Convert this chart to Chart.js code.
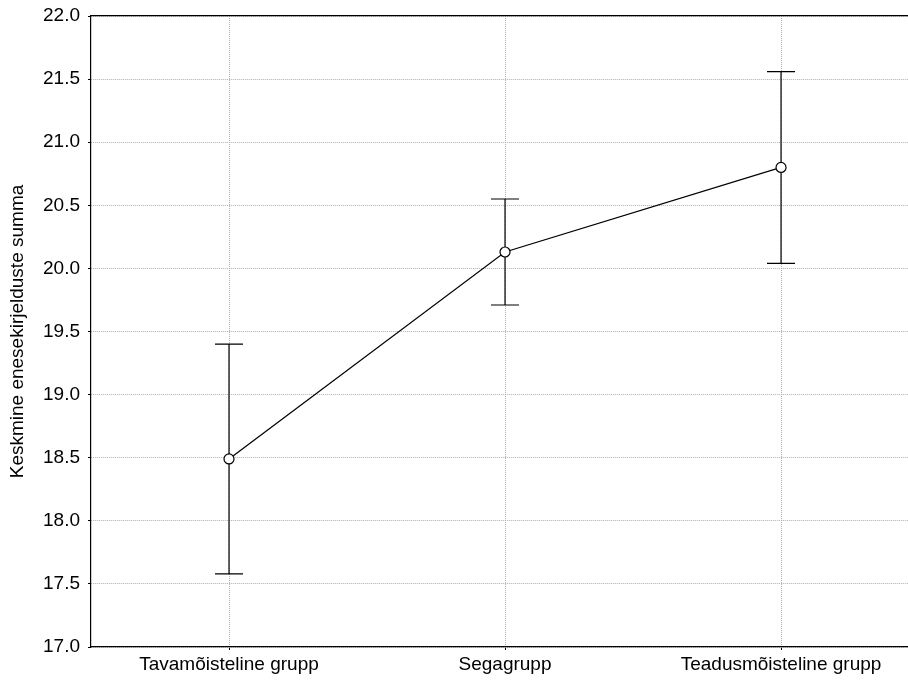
<!DOCTYPE html>
<html>
<head>
<meta charset="utf-8">
<script src="https://cdn.jsdelivr.net/npm/chart.js@4/dist/chart.umd.min.js"></script>
<style>
  html, body { margin: 0; padding: 0; background: #fff; }
  canvas { display: block; }
</style>
</head>
<body>
<canvas id="c" width="908" height="681"></canvas>
<script>
// Group means with 95% confidence limits
const groups = ['Tavamõisteline grupp', 'Segagrupp', 'Teadusmõisteline grupp'];
const means = [18.49, 20.13, 20.80];
const lower = [17.58, 19.71, 20.04];
const upper = [19.40, 20.55, 21.56];
const yTicks = [17.0, 17.5, 18.0, 18.5, 19.0, 19.5, 20.0, 20.5, 21.0, 21.5, 22.0];
const yTitle = 'Keskmine enesekirjelduste summa';

const FONT = { family: '"Liberation Sans", Arial, sans-serif', size: 19 };

// Vertical whiskers with caps, drawn under the line and markers
const errorBars = {
  id: 'errorBars',
  beforeDatasetsDraw(chart) {
    const { ctx, scales: { x, y } } = chart;
    ctx.save();
    ctx.strokeStyle = '#000';
    ctx.lineWidth = 1.2;
    const cap = 14;
    groups.forEach((g, i) => {
      const px = x.getPixelForValue(i + 1);
      const pLo = y.getPixelForValue(lower[i]);
      const pHi = y.getPixelForValue(upper[i]);
      ctx.beginPath();
      ctx.moveTo(px, pLo); ctx.lineTo(px, pHi);
      ctx.moveTo(px - cap, pLo); ctx.lineTo(px + cap, pLo);
      ctx.moveTo(px - cap, pHi); ctx.lineTo(px + cap, pHi);
      ctx.stroke();
    });
    ctx.restore();
  }
};

const gridOpts = {
  color: '#b0b0b0',
  tickColor: '#000',
  tickLength: 3,
  tickBorderDash: []
};
const axisBorder = { display: true, color: '#000', width: 1.2, dash: [1, 1] };

new Chart(document.getElementById('c'), {
  type: 'line',
  data: {
    datasets: [{
      data: means.map((m, i) => ({ x: i + 1, y: m })),
      borderColor: '#000',
      borderWidth: 1.2,
      pointRadius: 5,
      pointBorderWidth: 1.2,
      pointBackgroundColor: '#fff',
      pointBorderColor: '#000',
      tension: 0,
      clip: false
    }]
  },
  options: {
    responsive: false,
    animation: false,
    layout: { autoPadding: false, padding: { top: 16, left: 0, right: 0, bottom: 0 } },
    plugins: { legend: { display: false }, tooltip: { enabled: false } },
    scales: {
      x: {
        type: 'linear',
        position: 'bottom',
        min: 0.5,
        max: 3.46,
        afterBuildTicks(scale) { scale.ticks = groups.map((g, i) => ({ value: i + 1 })); },
        afterFit(scale) { scale.height = 34; scale.paddingLeft = 0; scale.paddingRight = 0; },
        ticks: {
          autoSkip: false,
          maxRotation: 0,
          color: '#000',
          font: FONT,
          padding: 3,
          callback: (v) => groups[v - 1]
        },
        grid: gridOpts,
        border: axisBorder
      },
      xTop: {
        type: 'linear',
        position: 'top',
        min: 0.5,
        max: 3.46,
        afterFit(scale) { scale.height = 0; scale.paddingLeft = 0; scale.paddingRight = 0; },
        ticks: { display: false },
        grid: { display: false },
        border: { display: true, color: '#000', width: 1.2 }
      },
      y: {
        min: 17,
        max: 22,
        afterBuildTicks(scale) { scale.ticks = yTicks.map(v => ({ value: v })); },
        afterFit(scale) { scale.width = 91; scale.paddingTop = 0; scale.paddingBottom = 0; },
        ticks: {
          color: '#000',
          font: FONT,
          padding: 8,
          callback: (v) => v.toFixed(1)
        },
        grid: gridOpts,
        border: axisBorder,
        title: {
          display: true,
          text: yTitle,
          color: '#000',
          font: FONT,
          padding: { top: 6, bottom: 0 }
        }
      }
    }
  },
  plugins: [errorBars]
});
</script>
</body>
</html>
